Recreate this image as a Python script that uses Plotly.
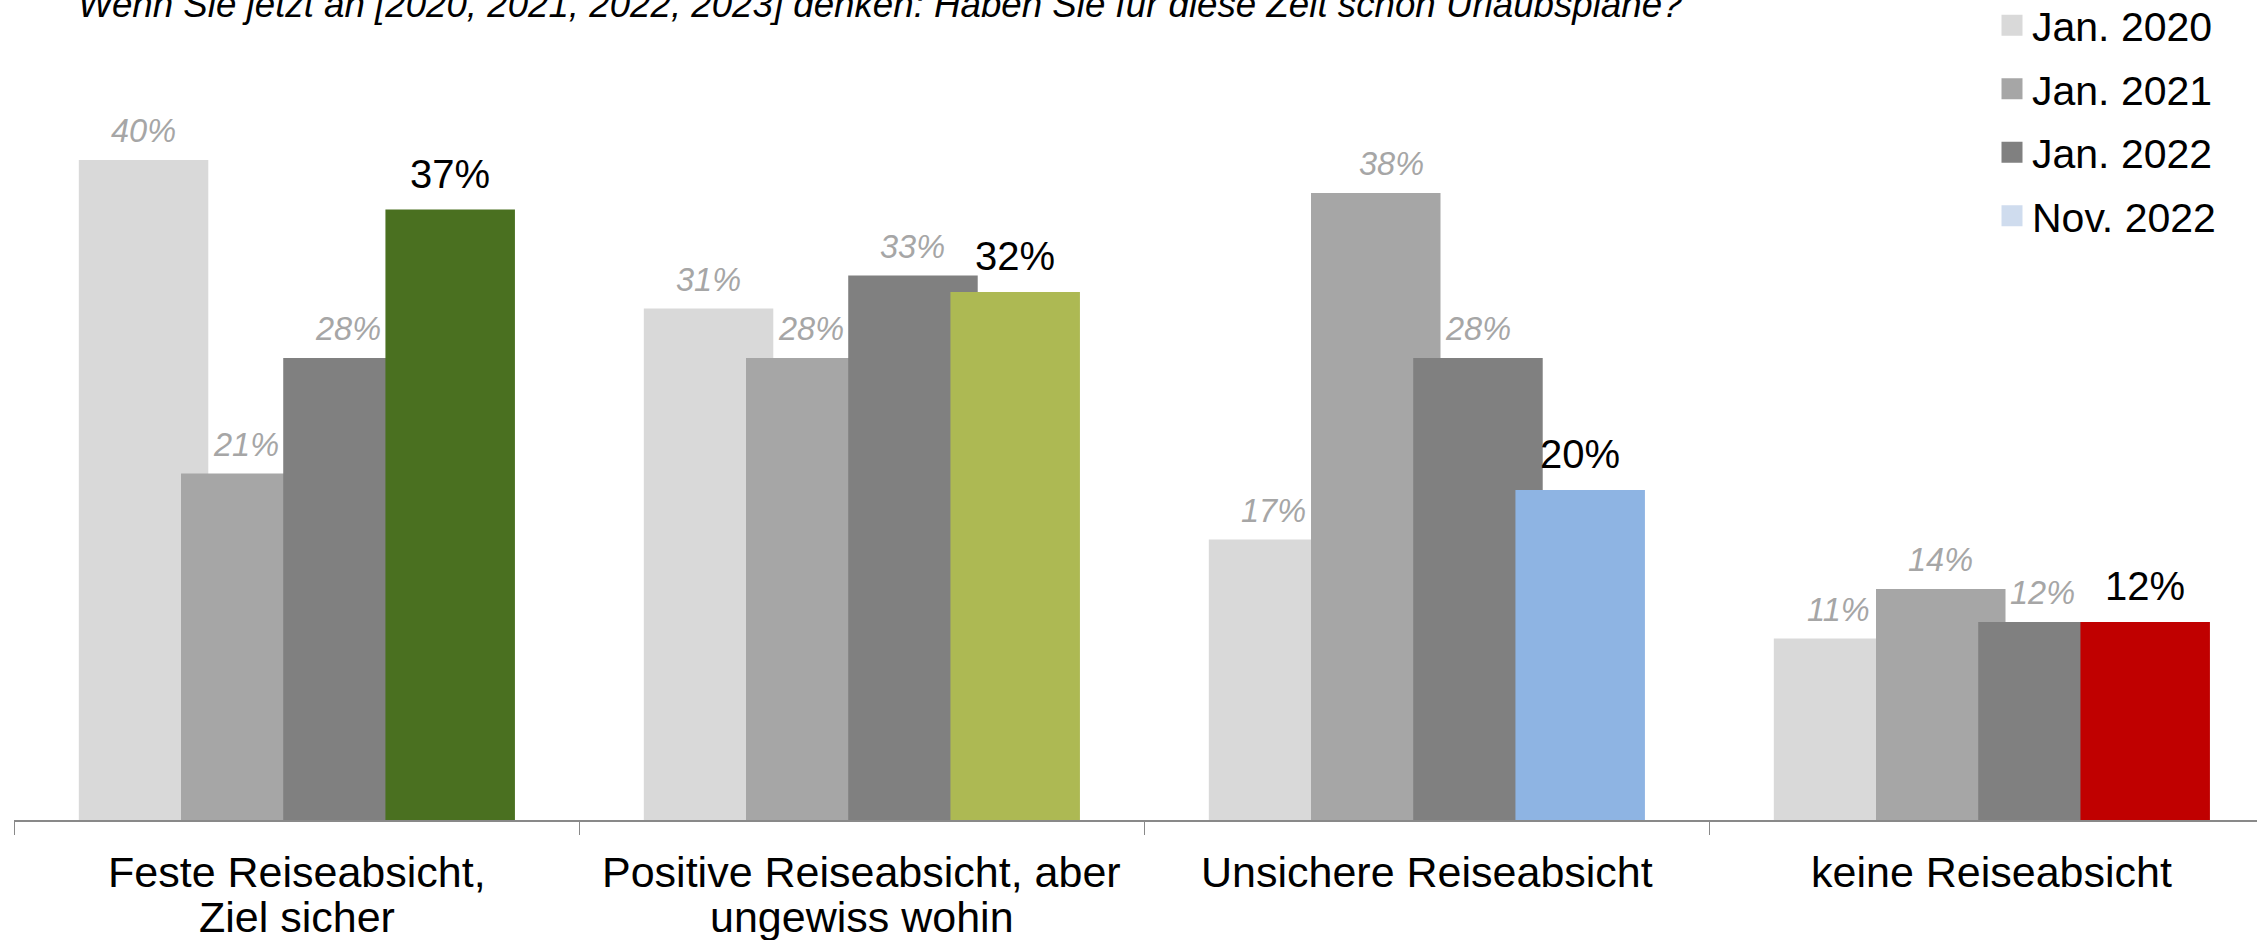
import plotly.graph_objects as go

# ---------------- data ----------------
categories = [
    "Feste Reiseabsicht,\nZiel sicher",
    "Positive Reiseabsicht, aber\nungewiss wohin",
    "Unsichere Reiseabsicht",
    "keine Reiseabsicht",
]
series_names = ["Jan. 2020", "Jan. 2021", "Jan. 2022", "Nov. 2022"]
jan_2020 = [40, 31, 17, 11]
jan_2021 = [21, 28, 38, 14]
jan_2022 = [28, 33, 28, 12]
nov_2022 = [37, 32, 20, 12]
title_text = ("Wenn Sie jetzt an [2020, 2021, 2022, 2023] denken: "
              "Haben Sie für diese Zeit schon Urlaubspläne?")

# ---------------- styles ----------------
gray_colors = ["#D9D9D9", "#A6A6A6", "#808080"]
nov_colors = ["#4A7020", "#ADB953", "#8EB4E3", "#C00000"]
legend_colors = ["#D9D9D9", "#A6A6A6", "#808080", "#CFDCEE"]
FONT = "Liberation Sans, Arial, sans-serif"

W, H = 2257, 940
ML, MB = 14, 120
plot_w = W - ML
plot_h = H - MB
cat_px = 565.0
x_range = [-0.5, -0.5 + plot_w / cat_px]
px_per_pct = 16.5
y_range = [0, plot_h / px_per_pct]

offsets = [-0.3853, -0.2044, -0.0235, 0.1574]
bar_w = 0.2292
label_xshift = {(1, 2): 16}  # (series, category) -> px, manual nudge as in source

series = [jan_2020, jan_2021, jan_2022, nov_2022]
x_ids = [c.replace("\n", " ") for c in categories]

fig = go.Figure()
for i, (name, vals) in enumerate(zip(series_names, series)):
    color = gray_colors[i] if i < 3 else nov_colors
    fig.add_trace(go.Bar(
        x=x_ids, y=vals, name=name,
        marker=dict(color=color, line=dict(width=0)),
        offset=offsets[i], width=bar_w, showlegend=False,
    ))

# legend entries (one legend per entry for exact spacing)
legend_centers = [25.5, 89, 152.5, 216]
for k, (name, col) in enumerate(zip(series_names, legend_colors)):
    lname = "legend" if k == 0 else f"legend{k+1}"
    fig.add_trace(go.Scatter(
        x=[None], y=[None], mode="markers", name=name,
        marker=dict(symbol="square", size=16, color=col, line=dict(width=5, color=col)),
        legend=lname, showlegend=True, hoverinfo="skip",
    ))
    fig.update_layout(**{lname: dict(
        x=(1992 - ML) / plot_w, y=1 - legend_centers[k] / plot_h,
        xref="paper", yref="paper",
        xanchor="left", yanchor="middle",
        font=dict(size=41, color="#000000", family=FONT),
        bgcolor="rgba(0,0,0,0)", borderwidth=0, itemwidth=30,
    )})

# value labels
for i, vals in enumerate(series):
    hl = (i == 3)
    for j, v in enumerate(vals):
        fig.add_annotation(
            x=j + offsets[i] + bar_w / 2, y=v, xref="x", yref="y",
            text=f"{v}%", showarrow=False, yanchor="middle",
            yshift=36 if hl else 29, xshift=label_xshift.get((i, j), 0),
            font=dict(size=40 if hl else 32.5, family=FONT,
                      color="#000000" if hl else "#A6A6A6",
                      style="normal" if hl else "italic"),
        )

# category labels
for j, cat in enumerate(categories):
    for li, line in enumerate(cat.split("\n")):
        fig.add_annotation(
            x=j, y=0, xref="x", yref="paper", text=line, showarrow=False,
            yanchor="middle", yshift=-52 - 45 * li,
            font=dict(size=43, family=FONT, color="#000000"),
        )

# title (partially cut at top, as in the source)
fig.add_annotation(
    x=(76 - ML) / plot_w, y=1, xref="paper", yref="paper", text=title_text,
    showarrow=False, xanchor="left", yanchor="middle", yshift=-4,
    font=dict(size=36.7, family=FONT, color="#000000", style="italic"),
)

fig.update_layout(
    width=W, height=H,
    margin=dict(l=ML, r=0, t=0, b=MB, pad=0, autoexpand=False),
    plot_bgcolor="white", paper_bgcolor="white",
    barmode="overlay", font=dict(family=FONT),
    xaxis=dict(type="category", range=x_range, showline=True, linecolor="#898989",
               linewidth=2, ticks="outside", tickson="boundaries", ticklen=13,
               tickcolor="#898989", tickwidth=1, showticklabels=False,
               showgrid=False, zeroline=False),
    yaxis=dict(range=y_range, visible=False, showgrid=False, zeroline=False),
)

fig.write_html(
    "out.html",
    config={"displayModeBar": False},
    post_script="document.body.style.margin='0';document.body.style.overflow='hidden';",
)
